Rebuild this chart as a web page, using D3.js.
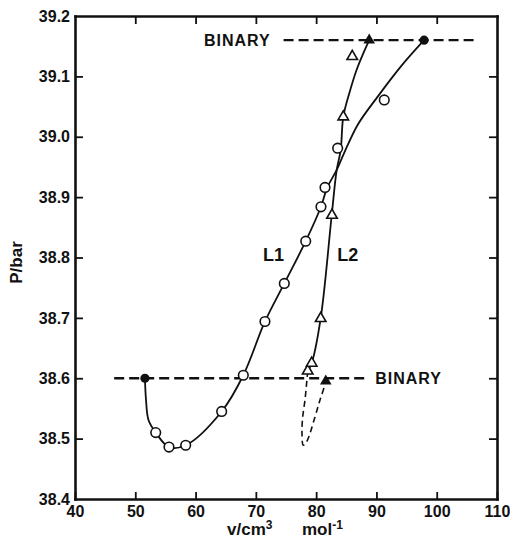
<!DOCTYPE html>
<html>
<head>
<meta charset="utf-8">
<script src="https://cdn.jsdelivr.net/npm/d3@7"></script>
<style>
  html, body { margin: 0; padding: 0; background: #fff; }
  svg text { font-family: "Liberation Sans", Arial, sans-serif; font-weight: bold; fill: #111; }
</style>
</head>
<body>
<svg id="chart" width="510" height="541"></svg>
<script>
// ---- data ----
const xTicks = [40, 50, 60, 70, 80, 90, 100, 110];
const yTicks = [38.4, 38.5, 38.6, 38.7, 38.8, 38.9, 39.0, 39.1, 39.2];

// L1 measured points (open circles)
const l1Volume   = [53.39, 55.59, 58.36, 64.33, 67.92, 71.51, 74.72, 78.27, 80.80, 81.47, 83.57, 91.30];
const l1Pressure = [38.510, 38.486, 38.489, 38.545, 38.605, 38.694, 38.757, 38.827, 38.884, 38.916, 38.981, 39.061];

// L2 measured points (open triangles)
const l2Volume   = [78.60, 79.26, 80.75, 82.63, 84.50, 85.99];
const l2Pressure = [38.612, 38.625, 38.699, 38.870, 39.033, 39.133];

// binary end points
const binaryCircleVolume     = [51.6, 97.9];
const binaryCirclePressure   = [38.60, 39.16];
const binaryTriangleVolume   = [81.6, 88.8];
const binaryTrianglePressure = [38.595, 39.16];

// smooth curves as drawn
const l1CurveVolume   = [51.6, 51.78, 52.19, 53.39, 55.59, 58.36, 64.33, 67.92, 71.51, 74.72, 78.27, 80.80, 81.80, 83.41, 84.6, 86.9, 90.4, 94.1, 97.9];
const l1CurvePressure = [38.60, 38.564, 38.531, 38.510, 38.486, 38.489, 38.545, 38.605, 38.694, 38.757, 38.827, 38.884, 38.915, 38.945, 38.972, 39.020, 39.069, 39.117, 39.16];
const l2CurveVolume   = [78.60, 79.26, 80.75, 82.58, 83.41, 84.07, 84.50, 85.50, 86.72, 87.82, 88.8];
const l2CurvePressure = [38.612, 38.625, 38.699, 38.870, 38.945, 38.978, 39.033, 39.072, 39.111, 39.138, 39.16];
const loopVolume   = [78.60, 78.15, 77.77, 77.65, 77.87, 78.48, 79.81, 80.64, 81.47];
const loopPressure = [38.612, 38.564, 38.536, 38.509, 38.489, 38.496, 38.536, 38.564, 38.589];

// binary pressure lines
const binaryLinePressure = [38.60, 39.16];
const binaryLineFrom     = [46.5, 74.6];
const binaryLineTo       = [88.1, 106.2];
const binaryLabelVolume  = [89.8, 61.4];

const curveLabels = ["L1", "L2"];
const curveLabelVolume = [71.2, 83.5];
const curveLabelPressure = [38.805, 38.805];

// ---- drawing ----
const svg = d3.select("#chart");
const x = d3.scaleLinear().domain([40, 110]).range([75, 497]);
const y = d3.scaleLinear().domain([38.4, 39.2]).range([499, 16]);

const axisStyle = g => {
  g.selectAll(".domain").attr("stroke", "#111").attr("stroke-width", 2.6).attr("stroke-linecap", "square");
  g.selectAll(".tick line").attr("stroke", "#111").attr("stroke-width", 1.8);
  g.selectAll(".tick text").style("font-size", "16px").attr("fill", "#111");
};

svg.append("g").attr("transform", `translate(0,${y(38.4)})`)
  .call(d3.axisBottom(x).tickValues(xTicks).tickFormat(d3.format("d")).tickSizeInner(-7).tickSizeOuter(0).tickPadding(7))
  .call(axisStyle);
svg.append("g").attr("transform", `translate(0,${y(39.2)})`)
  .call(d3.axisTop(x).tickValues(xTicks.slice(1, -1)).tickFormat("").tickSizeInner(-8).tickSizeOuter(0))
  .call(axisStyle);
svg.append("g").attr("transform", `translate(${x(40)},0)`)
  .call(d3.axisLeft(y).tickValues(yTicks).tickFormat(d3.format(".1f")).tickSizeInner(-8).tickSizeOuter(0).tickPadding(5))
  .call(axisStyle)
  .call(g => g.selectAll(".tick line").filter(d => d === 38.4 || d === 39.2).remove());
svg.append("g").attr("transform", `translate(${x(110)},0)`)
  .call(d3.axisRight(y).tickValues(yTicks.slice(1, -1)).tickFormat("").tickSizeInner(-8).tickSizeOuter(0))
  .call(axisStyle);

// axis titles
svg.append("text")
  .attr("transform", `translate(22,${(y(38.4) + y(39.2)) / 2 + 5}) rotate(-90)`)
  .attr("text-anchor", "middle").style("font-size", "17px")
  .text("P/bar");
const xt = svg.append("text").attr("x", 227).attr("y", 535).style("font-size", "17px");
xt.append("tspan").text("v/cm");
xt.append("tspan").attr("dy", -6).style("font-size", "12px").text("3");
xt.append("tspan").attr("x", 302).attr("dy", 6).text("mol");
xt.append("tspan").attr("dy", -6).style("font-size", "12px").text("-1");

// binary dashed lines
binaryLinePressure.forEach((p, i) => {
  svg.append("line")
    .attr("x1", x(binaryLineFrom[i])).attr("x2", x(binaryLineTo[i]))
    .attr("y1", y(p)).attr("y2", y(p))
    .attr("stroke", "#111").attr("stroke-width", 2.4).attr("stroke-dasharray", "10,5");
  svg.append("text")
    .attr("x", x(binaryLabelVolume[i])).attr("y", y(p)).attr("dy", "0.36em")
    .style("font-size", "16px").style("letter-spacing", "1px")
    .text("BINARY");
});

const line = d3.line().x(d => x(d[0])).y(d => y(d[1])).curve(d3.curveCatmullRom.alpha(0.5));

svg.append("path").attr("d", line(d3.zip(l1CurveVolume, l1CurvePressure)))
  .attr("fill", "none").attr("stroke", "#111").attr("stroke-width", 1.8);
svg.append("path").attr("d", line(d3.zip(l2CurveVolume, l2CurvePressure)))
  .attr("fill", "none").attr("stroke", "#111").attr("stroke-width", 1.8);
svg.append("path").attr("d", line(d3.zip(loopVolume, loopPressure)))
  .attr("fill", "none").attr("stroke", "#111").attr("stroke-width", 1.6).attr("stroke-dasharray", "6,4");

// markers
svg.append("g").selectAll("circle").data(d3.zip(l1Volume, l1Pressure)).join("circle")
  .attr("cx", d => x(d[0])).attr("cy", d => y(d[1])).attr("r", 4.8)
  .attr("fill", "#fff").attr("stroke", "#111").attr("stroke-width", 1.6);

const tri = d3.symbol().type(d3.symbolTriangle).size(48);
svg.append("g").selectAll("path").data(d3.zip(l2Volume, l2Pressure)).join("path")
  .attr("d", tri).attr("transform", d => `translate(${x(d[0])},${y(d[1])})`)
  .attr("fill", "#fff").attr("stroke", "#111").attr("stroke-width", 1.6);

svg.append("g").selectAll("circle").data(d3.zip(binaryCircleVolume, binaryCirclePressure)).join("circle")
  .attr("cx", d => x(d[0])).attr("cy", d => y(d[1])).attr("r", 4.6).attr("fill", "#111");
svg.append("g").selectAll("path").data(d3.zip(binaryTriangleVolume, binaryTrianglePressure)).join("path")
  .attr("d", d3.symbol().type(d3.symbolTriangle).size(58)).attr("transform", d => `translate(${x(d[0])},${y(d[1])})`)
  .attr("fill", "#111");

// curve labels
svg.append("g").selectAll("text").data(curveLabels).join("text")
  .attr("x", (d, i) => x(curveLabelVolume[i])).attr("y", (d, i) => y(curveLabelPressure[i]))
  .attr("dy", "0.36em").style("font-size", "18px")
  .text(d => d);
</script>
</body>
</html>
